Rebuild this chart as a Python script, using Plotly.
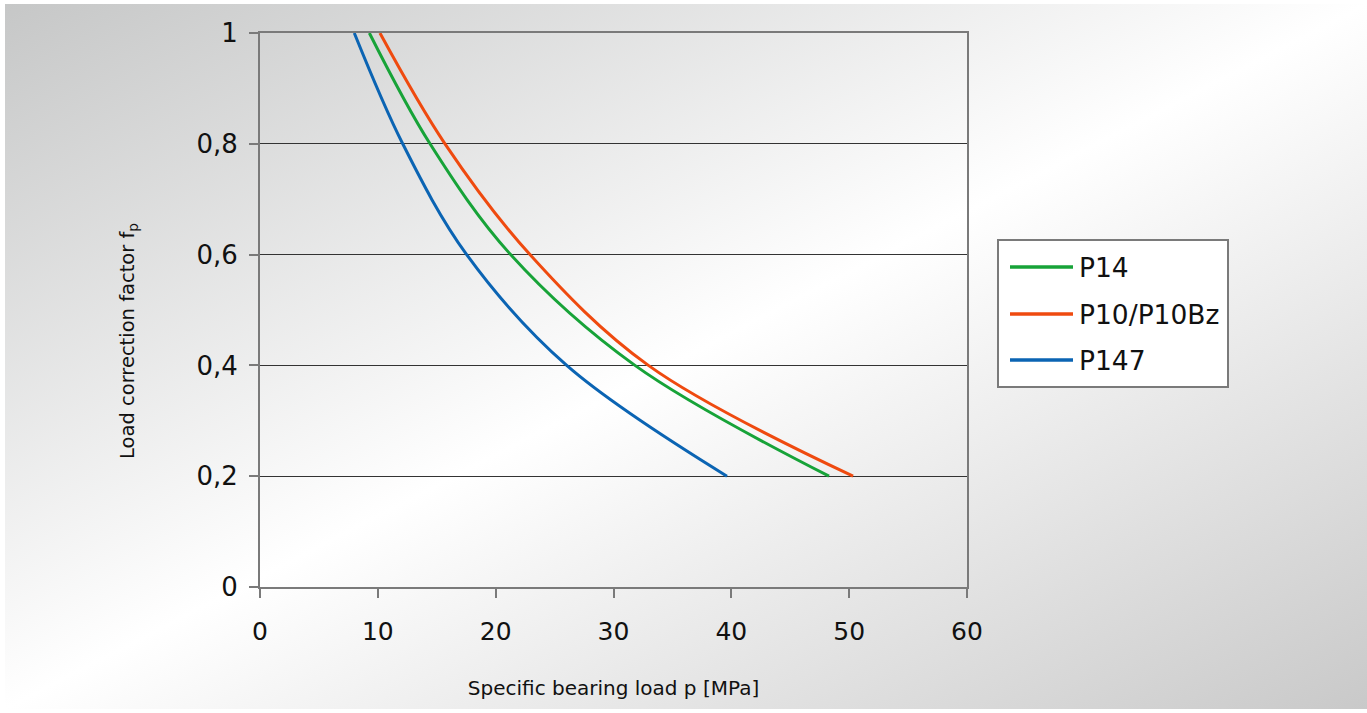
import plotly.graph_objects as go

# --- data ---
factor = [1.0, 0.8, 0.6, 0.4, 0.2]
p14 = [9.28, 14.43, 21.27, 31.82, 48.29]
p10 = [10.18, 15.70, 22.91, 32.96, 50.33]
p147 = [8.0, 12.11, 17.54, 26.03, 39.63]
series_names = ["P14", "P10/P10Bz", "P147"]
series_values = [p14, p10, p147]
series_colors = ["#17a338", "#ef4a0f", "#0b64b3"]

x_ticks = [0, 10, 20, 30, 40, 50, 60]
y_ticks = [0, 0.2, 0.4, 0.6, 0.8, 1]
y_ticklabels = ["0", "0,2", "0,4", "0,6", "0,8", "1"]

W, H = 1367, 713
L, R, T, B = 260, 967, 33, 587
pw, ph = R - L, B - T
FONT = "DejaVu Sans"


def px(xp):
    return (xp - L) / pw


def py(yp):
    return (B - yp) / ph


fig = go.Figure()
for name, vals, col in zip(series_names, series_values, series_colors):
    fig.add_trace(go.Scatter(
        x=vals, y=factor, mode="lines", name=name, showlegend=False,
        line=dict(color=col, width=3, shape="spline", smoothing=1.0),
    ))

bg_svg = (
    "data:image/svg+xml;utf8,"
    "<svg xmlns='http://www.w3.org/2000/svg' width='1362' height='705' preserveAspectRatio='none'>"
    "<defs><linearGradient id='g' x1='0' y1='0' x2='1' y2='1'>"
    "<stop offset='0' stop-color='%23c6c7c7'/>"
    "<stop offset='0.5' stop-color='%23ffffff'/>"
    "<stop offset='1' stop-color='%23c9c9c9'/>"
    "</linearGradient></defs>"
    "<rect width='1362' height='705' fill='url(%23g)'/></svg>"
)
fig.add_layout_image(dict(
    source=bg_svg, xref="paper", yref="paper",
    x=px(5), y=py(4), sizex=1362 / pw, sizey=705 / ph,
    xanchor="left", yanchor="top", sizing="stretch", layer="below",
))

# custom legend (box, line samples, labels)
fig.add_shape(type="rect", xref="paper", yref="paper",
              x0=px(998), x1=px(1228), y0=py(387), y1=py(240),
              fillcolor="white", line=dict(color="#7a7a7a", width=2))
legend_rows = [267, 314, 360]
for name, col, yr in zip(series_names, series_colors, legend_rows):
    fig.add_shape(type="line", xref="paper", yref="paper",
                  x0=px(1010), x1=px(1073), y0=py(yr), y1=py(yr),
                  line=dict(color=col, width=3.5))
    fig.add_annotation(xref="paper", yref="paper", x=px(1077), y=py(yr),
                       xanchor="left", yanchor="middle", showarrow=False,
                       text=name, font=dict(family=FONT, size=26.5, color="#111111"))

# y-axis title
fig.add_annotation(xref="paper", yref="paper", x=px(128), y=py(341),
                   xanchor="center", yanchor="middle", showarrow=False, textangle=-90,
                   text="Load correction factor f<sub>p</sub>",
                   font=dict(family=FONT, size=19.5, color="#111111"))

fig.update_layout(
    width=W, height=H,
    margin=dict(l=L, r=W - R, t=T, b=H - B, pad=0),
    paper_bgcolor="white", plot_bgcolor="white",
    separators=",.",
    showlegend=False,
    xaxis=dict(
        range=[0, 60], tickvals=x_ticks, ticks="outside", ticklen=9,
        tickcolor="#7a7a7a", tickwidth=1.5, ticklabelstandoff=12,
        showline=True, linecolor="#7a7a7a", linewidth=2, mirror=True,
        showgrid=False, zeroline=False,
        tickfont=dict(family=FONT, size=25, color="#111111"),
        title=dict(text="Specific bearing load p [MPa]", standoff=36,
                   font=dict(family=FONT, size=20, color="#111111")),
    ),
    yaxis=dict(
        range=[0, 1], tickvals=y_ticks, ticktext=y_ticklabels,
        ticks="outside", ticklen=9, tickcolor="#7a7a7a", tickwidth=1.5,
        ticklabelstandoff=6,
        showline=True, linecolor="#7a7a7a", linewidth=2, mirror=True,
        showgrid=True, gridcolor="#333333", gridwidth=1, zeroline=False,
        tickfont=dict(family=FONT, size=26, color="#111111"),
    ),
)

fig.write_html("out.html", config={"displayModeBar": False},
               post_script="document.body.style.margin='0';")
